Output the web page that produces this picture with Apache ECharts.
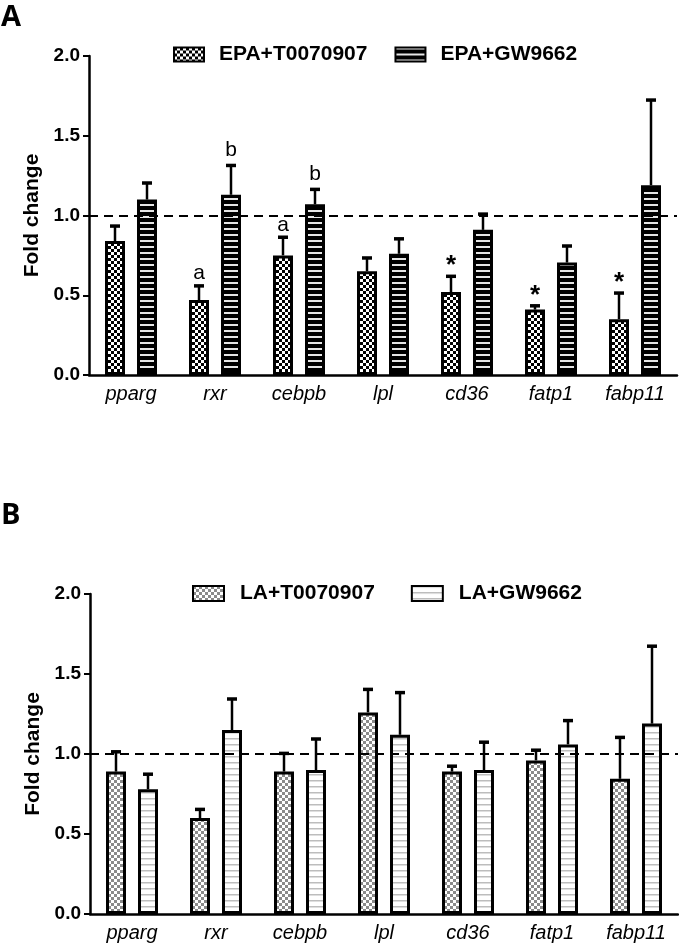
<!DOCTYPE html>
<html><head><meta charset="utf-8">
<script src="https://cdn.jsdelivr.net/npm/echarts@6/dist/echarts.min.js"></script>
<style>html,body{margin:0;padding:0;background:#fff;}#c{width:679px;height:948px;}</style>
</head><body><div id="c"></div>
<script>
const categories = ['pparg','rxr','cebpb','lpl','cd36','fatp1','fabp11'];
const yTicks = [0, 0.5, 1.0, 1.5, 2.0];
// Panel A
const epaT = [0.84, 0.47, 0.75, 0.65, 0.52, 0.41, 0.35];
const epaTErr = [0.10, 0.095, 0.12, 0.09, 0.105, 0.03, 0.17];
const epaGW = [1.10, 1.13, 1.07, 0.76, 0.91, 0.705, 1.19];
const epaGWErr = [0.11, 0.19, 0.10, 0.10, 0.105, 0.11, 0.54];
const epaTMarks = ['', 'a', 'a', '', '*', '*', '*'];
const epaGWMarks = ['', 'b', 'b', '', '', '', ''];
// Panel B
const laT = [0.89, 0.60, 0.89, 1.26, 0.89, 0.96, 0.845];
const laTErr = [0.13, 0.06, 0.12, 0.15, 0.04, 0.07, 0.265];
const laGW = [0.78, 1.15, 0.90, 1.12, 0.90, 1.06, 1.19];
const laGWErr = [0.10, 0.20, 0.20, 0.27, 0.18, 0.155, 0.49];
const laTMarks = ['', '', '', '', '', '', ''];
const laGWMarks = ['', '', '', '', '', '', ''];

const FONT = '"Liberation Sans",Arial,sans-serif';

function checker(fg, bg, s) {
  const c = document.createElement('canvas'); c.width = 2*s; c.height = 2*s;
  const g = c.getContext('2d');
  g.fillStyle = bg; g.fillRect(0,0,2*s,2*s);
  g.fillStyle = fg; g.fillRect(0,0,s,s); g.fillRect(s,s,s,s);
  return {image: c, repeat: 'repeat'};
}
function stripes(bg, fg, h, lh) {
  const c = document.createElement('canvas'); c.width = 4; c.height = h;
  const g = c.getContext('2d');
  g.fillStyle = bg; g.fillRect(0,0,4,h);
  g.fillStyle = fg; g.fillRect(0,0,4,lh);
  return {image: c, repeat: 'repeat'};
}

const BW = 20, OFF = 16;
const markStyle = {
  'a': {dy: 4, font: '21px ' + FONT},
  'b': {dy: 1, font: '21px ' + FONT},
  '*': {dy: 9, font: 'bold 26px ' + FONT}
};

function errSeries(name, gi, vals, errs, marks, idx) {
  return {
    type: 'custom', name: name + '_err', xAxisIndex: gi, yAxisIndex: gi, z: 5,
    data: vals.map((v, i) => [i, v, errs[i]]),
    renderItem: function (params, api) {
      const ci = api.value(0), v = api.value(1), e = api.value(2);
      const b = api.coord([ci, v]);
      const t = api.coord([ci, v + e]);
      const x = b[0] + (idx === 0 ? -OFF : OFF);
      const ch = [
        {type: 'line', shape: {x1: x, y1: b[1], x2: x, y2: t[1]}, style: {stroke: '#000', lineWidth: 2.5}},
        {type: 'line', shape: {x1: x - 5, y1: t[1] + 1, x2: x + 5, y2: t[1] + 1}, style: {stroke: '#000', lineWidth: 3.5}}
      ];
      const m = marks[params.dataIndex];
      if (m) {
        const ms = markStyle[m];
        ch.push({type: 'text', style: {text: m, x: x, y: t[1] - 5 + ms.dy, align: 'center', verticalAlign: 'bottom',
          font: ms.font, fill: '#000'}});
      }
      return {type: 'group', children: ch};
    }
  };
}

function barSeries(name, gi, vals, color, withLine) {
  const s = {
    type: 'bar', name: name, xAxisIndex: gi, yAxisIndex: gi, barWidth: BW, barGap: '60%',
    data: vals, itemStyle: {color: color, borderColor: '#000', borderWidth: 3},
    emphasis: {disabled: true}
  };
  if (withLine) {
    s.markLine = {silent: true, symbol: 'none', label: {show: false},
      lineStyle: {color: '#000', type: [9, 6], width: 2}, data: [{yAxis: 1}]};
  }
  return s;
}

const patA1 = checker('#000', '#fff', 3);
const patA2 = stripes('#000', '#e6e6e6', 6, 2);
const patB1 = checker('#8a8a8a', '#fff', 3);
const patB2 = stripes('#fff', '#bdbdbd', 6, 1.5);

function xAx(gi) {
  return {type: 'category', gridIndex: gi, data: categories,
    axisLine: {lineStyle: {color: '#000', width: 2.5}},
    axisTick: {alignWithLabel: true, length: 6, lineStyle: {color: '#000', width: 2}},
    axisLabel: {color: '#000', fontStyle: 'italic', fontSize: 20, fontFamily: FONT, margin: 9}};
}
function yAx(gi) {
  return {type: 'value', gridIndex: gi, min: 0, max: 2, interval: 0.5,
    name: 'Fold change', nameLocation: 'middle', nameGap: 46,
    nameTextStyle: {color: '#000', fontWeight: 'bold', fontSize: 21, fontFamily: FONT},
    axisLine: {show: true, lineStyle: {color: '#000', width: 2.5}},
    axisTick: {show: true, length: 6, lineStyle: {color: '#000', width: 2}},
    splitLine: {show: false},
    axisLabel: {color: '#000', fontWeight: 'bold', fontSize: 19, fontFamily: FONT, margin: 9,
      formatter: v => yTicks.includes(v) ? v.toFixed(1) : ''}};
}

const chart = echarts.init(document.getElementById('c'), null, {renderer: 'canvas'});
chart.setOption({
  animation: false,
  graphic: [
    {type: 'text', left: 1, top: 3, style: {text: 'A', font: 'bold 29px "Open Sans",sans-serif', fill: '#000'}},
    {type: 'text', left: 1, top: 501, style: {text: 'B', font: 'bold 29px "Open Sans",sans-serif', fill: '#000'}}
  ],
  legend: [
    {data: ['EPA+T0070907', 'EPA+GW9662'], left: 173, top: 44, padding: 0, icon: 'rect', itemWidth: 30, itemHeight: 14, itemGap: 27,
      textStyle: {color: '#000', fontWeight: 'bold', fontSize: 21, fontFamily: FONT, padding: [0, 0, 0, 10]}},
    {data: ['LA+T0070907', 'LA+GW9662'], left: 192, top: 583, padding: 0, icon: 'rect', itemWidth: 31, itemHeight: 15, itemGap: 36,
      textStyle: {color: '#000', fontWeight: 'bold', fontSize: 21, fontFamily: FONT, padding: [0, 0, 0, 11]}}
  ],
  grid: [
    {left: 89, top: 56, width: 588, height: 319},
    {left: 90, top: 594, width: 588, height: 320}
  ],
  xAxis: [xAx(0), xAx(1)],
  yAxis: [yAx(0), yAx(1)],
  series: [
    barSeries('EPA+T0070907', 0, epaT, patA1, true),
    barSeries('EPA+GW9662', 0, epaGW, patA2, false),
    errSeries('EPA+T0070907', 0, epaT, epaTErr, epaTMarks, 0),
    errSeries('EPA+GW9662', 0, epaGW, epaGWErr, epaGWMarks, 1),
    barSeries('LA+T0070907', 1, laT, patB1, true),
    barSeries('LA+GW9662', 1, laGW, patB2, false),
    errSeries('LA+T0070907', 1, laT, laTErr, laTMarks, 0),
    errSeries('LA+GW9662', 1, laGW, laGWErr, laGWMarks, 1)
  ]
});
</script>
</body></html>
